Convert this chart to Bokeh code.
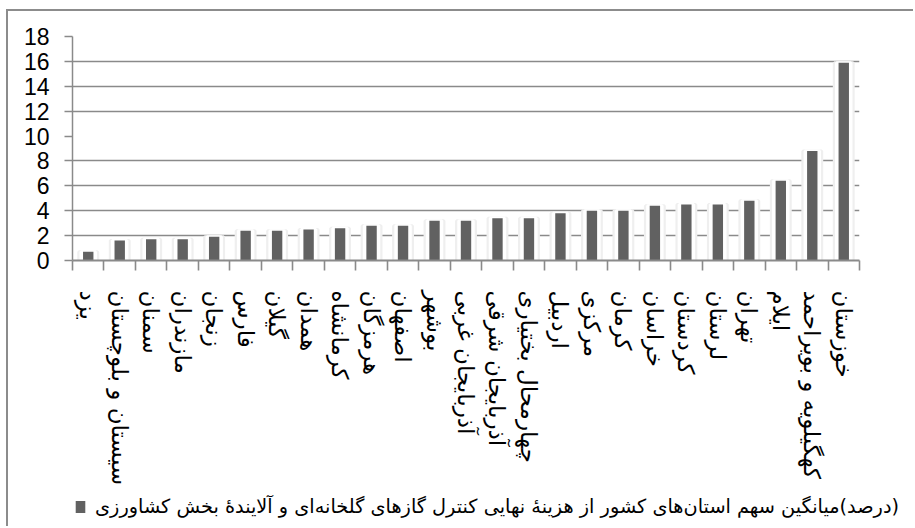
from bokeh.plotting import figure
from bokeh.layouts import column
from bokeh.models import Range1d, FixedTicker, Legend, LegendItem, ColumnDataSource
from bokeh.embed import file_html
from bokeh.resources import INLINE

provinces = ["یزد", "سیستان و بلوچستان", "سمنان", "مازندران", "زنجان", "فارس", "گیلان",
             "همدان", "کرمانشاه", "هرمزگان", "اصفهان", "بوشهر", "آذربایجان غربی",
             "آذربایجان شرقی", "چهارمحال بختیاری", "اردبیل", "مرکزی", "کرمان", "خراسان",
             "کردستان", "لرستان", "تهران", "ایلام", "کهگیلویه و بویراحمد", "خوزستان"]
values = [0.7, 1.6, 1.7, 1.7, 1.9, 2.4, 2.4, 2.5, 2.6, 2.8, 2.8, 3.2, 3.2,
          3.4, 3.4, 3.8, 4.0, 4.0, 4.4, 4.5, 4.5, 4.8, 6.4, 8.8, 15.9]
y_ticks = [0, 2, 4, 6, 8, 10, 12, 14, 16, 18]
grid_lines = [0, 2, 4, 6, 8, 12, 14, 16, 18]
legend_label = "\u200f(درصد)میانگین سهم استان\u200cهای کشور از هزینهٔ نهایی کنترل گازهای گلخانه\u200cای و آلایندهٔ بخش کشاورزی"

x = list(range(len(provinces)))
src = ColumnDataSource(dict(x=x, v=values))

GRAY = "#8a8a8a"
BAR = "#616161"
p = figure(width=905, height=478, x_range=Range1d(-0.5, len(provinces) - 0.5),
           y_range=Range1d(0, 18), output_backend="svg", toolbar_location=None,
           min_border_left=64, min_border_right=54, min_border_top=25, min_border_bottom=229)
p.frame_align = False
p.outline_line_color = None
p.background_fill_color = "white"

p.xgrid.visible = False
p.ygrid.ticker = FixedTicker(ticks=grid_lines)
p.ygrid.grid_line_color = GRAY
p.ygrid.grid_line_width = 1.6

# shadow, white halo and bars
p.vbar(x="x", top="v", width=0.6, source=src, fill_color="#e8e8e8", line_color="#efefef",
       line_width=3)
p.vbar(x="x", top="v", width=0.46, source=src, fill_color="white", line_color="white",
       line_width=3)
p.vbar(x="x", top="v", width=0.33, source=src, fill_color=BAR, line_color=None)

# y axis
ya = p.yaxis[0]
ya.ticker = FixedTicker(ticks=y_ticks)
ya.axis_line_color = GRAY
ya.axis_line_width = 1.5
ya.major_tick_line_color = GRAY
ya.major_tick_line_width = 1.6
ya.major_tick_out = 8
ya.major_tick_in = 0
ya.minor_tick_line_color = None
ya.major_label_text_font = "Liberation Sans"
ya.major_label_text_font_size = "23px"
ya.major_label_text_color = "black"
ya.major_label_standoff = 15

# x axis
xa = p.xaxis[0]
xa.ticker = FixedTicker(ticks=x, minor_ticks=[i - 0.5 for i in range(len(provinces) + 1)])
xa.major_label_overrides = {i: name for i, name in enumerate(provinces)}
xa.major_label_orientation = "vertical"
xa.major_tick_out = 0
xa.major_tick_in = 0
xa.major_tick_line_color = None
xa.minor_tick_out = 10
xa.minor_tick_in = 0
xa.minor_tick_line_color = GRAY
xa.minor_tick_line_width = 1.6
xa.axis_line_color = GRAY
xa.axis_line_width = 2
xa.major_label_text_font = "DejaVu Sans"
xa.major_label_text_font_size = "23px"
xa.major_label_text_color = "black"
xa.major_label_standoff = 20

# legend strip below the chart
lg = figure(width=905, height=37, x_range=Range1d(0, 1), y_range=Range1d(0, 1),
            output_backend="svg", toolbar_location=None, x_axis_location=None,
            y_axis_location=None, min_border=0)
lg.frame_align = False
lg.outline_line_color = None
lg.grid.visible = False
swatch = lg.vbar(x="x", top="v", width=0.33, source=src, fill_color=BAR, line_color=None,
                 visible=False)
legend = Legend(items=[LegendItem(label=legend_label, renderers=[swatch])],
                location=(66, 8), orientation="horizontal", padding=0, margin=0,
                border_line_color=None, background_fill_alpha=0,
                glyph_width=12, glyph_height=15, label_standoff=9,
                label_text_font="DejaVu Sans", label_text_font_size="19.3px",
                label_text_color="black")
lg.add_layout(legend)

layout = column(p, lg, spacing=0,
                styles={"margin-left": "6px", "margin-top": "9px",
                        "border-top": "2px solid #8c8c8c", "border-left": "2px solid #8c8c8c"})

open("out.html", "w").write(file_html(layout, INLINE))
